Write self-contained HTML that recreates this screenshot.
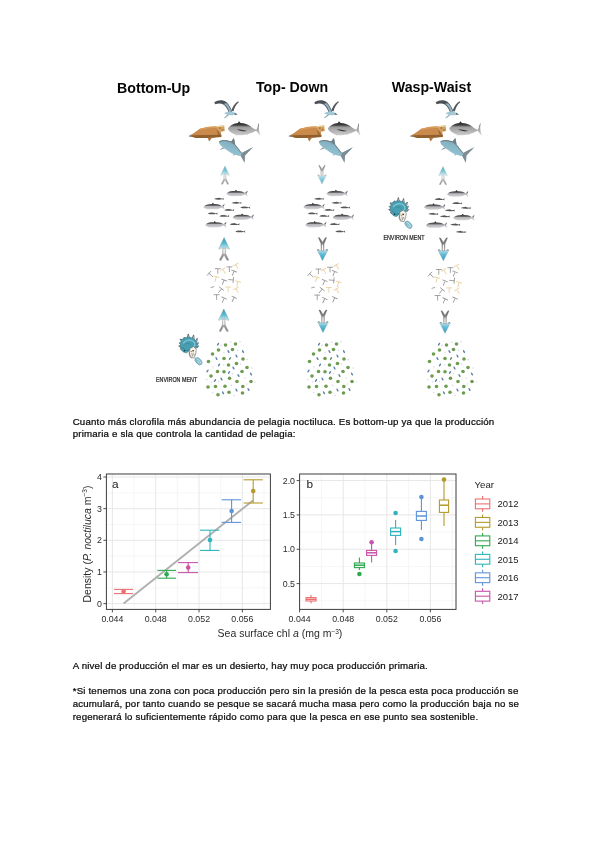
<!DOCTYPE html>
<html lang="es">
<head>
<meta charset="utf-8">
<title>Documento</title>
<style>
html,body{margin:0;padding:0;background:#fff;}
body{width:600px;height:848px;position:relative;overflow:hidden;font-family:"Liberation Sans",sans-serif;color:#000;}
.ln{position:absolute;left:72.7px;white-space:nowrap;font-size:9.7px;line-height:12px;height:12px;color:#0a0a0a;-webkit-text-stroke:0.24px #0a0a0a;letter-spacing:0.178px;filter:grayscale(1);}
.ttl{filter:grayscale(1);position:absolute;white-space:nowrap;font-weight:bold;font-size:14.2px;line-height:16px;color:#050505;}
#art{position:absolute;left:0;top:0;width:600px;height:848px;}
#art text{font-family:"Liberation Sans",sans-serif;filter:grayscale(1);}
</style>
</head>
<body>

<!-- ===== headings of the diagram ===== -->
<div class="ttl" id="t1" style="left:117px;top:80px;">Bottom-Up</div>
<div class="ttl" id="t2" style="left:256px;top:78.8px;">Top- Down</div>
<div class="ttl" id="t3" style="left:391.8px;top:79.3px;">Wasp-Waist</div>

<!-- ===== paragraphs ===== -->
<div class="ln" id="l1" style="top:415.6px;">Cuanto más clorofila más abundancia de pelagia noctiluca. Es bottom-up ya que la producción</div>
<div class="ln" id="l2" style="top:428.3px;">primaria e sla que controla la cantidad de pelagia:</div>
<div class="ln" id="l3" style="top:659.9px;">A nivel de producción el mar es un desierto, hay muy poca producción primaria.</div>
<div class="ln" id="l4" style="top:685.3px;">*Si tenemos una zona con poca producción pero sin la presión de la pesca esta poca producción se</div>
<div class="ln" id="l5" style="top:698.0px;">acumulará, por tanto cuando se pesque se sacará mucha masa pero como la producción baja no se</div>
<div class="ln" id="l6" style="top:710.7px;">regenerará lo suficientemente rápido como para que la pesca en ese punto sea sostenible.</div>

<svg id="art" viewBox="0 0 600 848" width="600" height="848">
<defs>

<filter id="soft" x="-5%" y="-5%" width="110%" height="110%"><feGaussianBlur stdDeviation="0.35"/></filter>
<linearGradient id="gTuna" x1="0" y1="0" x2="0" y2="1">
 <stop offset="0" stop-color="#2a2a2a"/><stop offset="0.26" stop-color="#3c3c3c"/><stop offset="0.4" stop-color="#9c9c9c"/><stop offset="1" stop-color="#cfcfcf"/>
</linearGradient>
<linearGradient id="gFish" x1="0" y1="0" x2="0" y2="1">
 <stop offset="0" stop-color="#2e2e2e"/><stop offset="0.2" stop-color="#3a3a3a"/><stop offset="0.4" stop-color="#6a6a6c"/><stop offset="0.52" stop-color="#b4b6ba"/><stop offset="1" stop-color="#d8d8d8"/>
</linearGradient>
<linearGradient id="gShark" x1="0.7" y1="0" x2="0.3" y2="1">
 <stop offset="0" stop-color="#6f7b83"/><stop offset="0.35" stop-color="#86b4c4"/><stop offset="1" stop-color="#9fcfdd"/>
</linearGradient>
<linearGradient id="gUp" x1="0" y1="0" x2="0" y2="1">
 <stop offset="0" stop-color="#3397b0"/><stop offset="0.55" stop-color="#62bdd2"/><stop offset="1" stop-color="#d9f2f6"/>
</linearGradient>
<linearGradient id="gDn" x1="0" y1="0" x2="0" y2="1">
 <stop offset="0" stop-color="#cdebf2"/><stop offset="0.4" stop-color="#66bdd6"/><stop offset="1" stop-color="#2f9cc2"/>
</linearGradient>
<linearGradient id="gTail" x1="0" y1="0" x2="0" y2="1">
 <stop offset="0" stop-color="#c9c9c9"/><stop offset="1" stop-color="#7d7d7d"/>
</linearGradient>
<linearGradient id="gTailD" x1="0" y1="0" x2="0" y2="1">
 <stop offset="0" stop-color="#5a5a5a"/><stop offset="1" stop-color="#b5b5b5"/>
</linearGradient>

<!-- arrow pointing up : tip at (0,0), 11 wide, 23 tall -->
<g id="arrUp">
 <path d="M-1.35,10.6 L1.35,10.6 L1.5,16 L4.7,22.6 L3.1,23 L0,17.6 L-3.1,23 L-4.7,22.6 L-1.5,16 Z" fill="url(#gTail)" stroke="#8f8f8f" stroke-width="0.35"/>
 <path d="M-0.55,11 L0.55,11 L0.6,16.2 L-0.6,16.2Z" fill="#fff"/>
 <path d="M0,0 L5.4,11.3 L4.6,11.7 L1.6,10.2 L-1.6,10.2 L-4.6,11.7 L-5.4,11.3 Z" fill="url(#gUp)" stroke="#7f9aa3" stroke-width="0.4" stroke-linejoin="round"/>
</g>
<!-- arrow pointing down : top at (0,0), tip at (0,23) -->
<g id="arrDn">
 <path d="M-4.1,0 L-2.9,0.1 L0,4.6 L2.9,0.1 L4.1,0 L1.5,6.4 L1.4,13 L-1.4,13 L-1.5,6.4 Z" fill="url(#gTailD)" stroke="#6e6e6e" stroke-width="0.35"/>
 <path d="M-0.55,7 L0.55,7 L0.55,12.8 L-0.55,12.8Z" fill="#fff"/>
 <path d="M0,23 L5.3,12.4 L4.5,11.9 L1.6,13.3 L-1.6,13.3 L-4.5,11.9 L-5.3,12.4 Z" fill="url(#gDn)" stroke="#7395a3" stroke-width="0.4" stroke-linejoin="round"/>
 <path d="M-5.3,12.4 L-4.5,11.9 L-3.3,12.6 M5.3,12.4 L4.5,11.9 L3.3,12.6" fill="none" stroke="#555" stroke-width="0.6"/>
</g>

<!-- big forage fish: nose (0,0), 21 long -->
<path id="bfish" d="M0,0.3 C1.2,-1.3 3.4,-2.2 6,-2.4 L8.5,-2.55 L9.4,-3.8 L10.7,-2.55 L14,-2.3 C16,-1.9 17.4,-1.1 18.6,-0.4 L21.2,-2.9 L20.4,0.2 L21.2,3.1 L18.6,0.9 C17,1.8 15,2.4 13,2.6 L6,2.75 C3.5,2.5 1.2,1.7 0,0.3Z" fill="url(#gFish)"/>
<!-- small forage fish: 10 long -->
<path id="sfish" d="M0,0.1 C1.4,-1.0 3.2,-1.3 4.6,-1.1 L5,-1.7 L5.6,-1.0 C6.8,-0.8 7.6,-0.5 8.2,-0.2 L10.1,-1.2 L9.6,0.1 L10.1,1.1 L8.2,0.5 C6,1.1 2.4,1.1 0,0.1Z" fill="#555" transform="scale(1,0.85)"/>
<!-- zooplankter : T shape -->
<path id="zoo" d="M-2.6,-1.9 L2.6,-1.9 M0,-1.9 L0,2.8" fill="none" stroke-linecap="round"/>

<!-- ===== predators (column 1 coordinates) ===== -->
<g id="pred">
 <!-- sea bird -->
 <path d="M214.3,102.3 C217.6,99.7 223,99.5 226.3,101.9 C229.1,104.3 230.8,108 232.2,111.8 L228.8,112.8 C227.6,109.4 226,106.4 223.8,104.8 C221.2,103.2 218,103.2 215.2,104.3Z" fill="#4b5056"/>
 <path d="M223.6,103.8 C226.6,105.2 228.2,108.8 229.4,112.7 L231.6,112.1 C230.2,108 228.8,105.2 226.6,103.2Z" fill="#8fb3c3"/>
 <path d="M231.3,110.6 C232.4,107 234.8,103.4 238.2,101.3 L238.8,102.3 C236,104.6 234.4,107.6 233.4,111.4Z" fill="#4f545a"/>
 <path d="M224.2,113.2 C227.4,111 232.6,111.4 234.8,112.7 L237.6,114.4 C233.4,115.7 228,115.5 224.2,113.2Z" fill="#a2c7d5"/>
 <path d="M234.4,112.6 L237.6,114.4 L235,114.8Z" fill="#5b6268"/>
 <path d="M228.4,114.8 L224.8,117.6" fill="none" stroke="#8ea9b4" stroke-width="1.2" stroke-linecap="round"/>
 <!-- turtle -->
 <path d="M188.6,136.1 L193.6,133.2 L199.8,128.8 L207.6,127 L216.2,126.2 L220.6,129.8 L221.4,136.6 L210,137.8 L196,137.8 Z" fill="#c98a4c"/>
 <path d="M215.6,126.3 L224.2,125.5 L224.8,130.9 L219.8,132 L217.4,129.6Z" fill="#d3a062"/>
 <path d="M206,127.1 L224.2,125.3 L224.3,126.5 L212,127.8Z" fill="#ead3a0"/>
 <path d="M189.4,136 L193,135.2 L221.4,134.8 L221.4,136.9 L210,138.1 L196,138.1Z" fill="#905e2f"/>
 <path d="M199.8,128.8 L207.6,127 L216.2,126.2 L217,127.4 L208,128.4 L200.6,130Z" fill="#d99c5c"/>
 <path d="M219,127.6 L220.6,127.4 L220.8,128.6 L219.2,128.8Z M221.6,129.4 L223.2,129.2 L223.4,130.4 L221.8,130.6Z M216.4,129.6 L218.4,131.6 L220.4,135 L218.4,135 Z" fill="#9a6330"/>
 <path d="M207.4,137.6 L209.2,141.5 L212.2,137.6Z" fill="#b0763d"/>
 <path d="M188.4,136.2 L191,135 L191,137Z" fill="#8a8c92"/>
 <!-- tuna -->
 <path d="M227.8,128.8 C229.6,125.6 234.4,123.4 237.8,123.1 L239,121.2 L240.6,123.1 C244.4,123.3 248,124.5 250.4,126.2 C252.6,127.8 254.6,129.2 256.3,129.7 C257.4,127.6 258.4,125 259.1,122.6 C258.5,126.6 258.7,131.6 260.5,135.8 C258.8,134 257.4,132.2 256.3,130.7 C253.4,131.9 250.6,133.4 248.2,134.1 L247.6,135 L246.4,134.5 C243.4,135.2 240.2,135.4 237.2,135 L236.4,135.8 L235.6,134.7 C232.4,133.9 229.4,132 227.8,128.8Z" fill="url(#gTuna)"/>
 <path d="M236.6,129.4 C240,129.3 244,130 247.2,131.1 C243.6,131.4 239.6,130.8 236.6,129.4Z" fill="#2e2e2e"/>
 <!-- shark -->
 <path d="M218.8,141.4 C220.8,140.3 223.4,139.9 225.6,140 L231.2,141.4 L233.9,137.9 L235.2,144.4 C237.6,147.4 239.9,150.4 241.7,152.9 L252.8,147.3 L245,155.4 L244.5,162.7 L241,156.2 C238.6,155.9 236.6,155.3 235,154.7 L233.6,156 L233,153.9 C231.4,153.2 230,152.2 228.8,151.4 C226,149.6 223.4,147.9 221.4,146.1 C220,144.7 219,143 218.8,141.4Z" fill="url(#gShark)"/>
 <path d="M231.2,141.4 L233.9,137.9 L235.2,144.4Z" fill="#737d84"/>
 <path d="M241.7,152.9 L252.8,147.3 L245,155.4 L244.5,162.7 L241,156.2Z" fill="#808b92"/>
 <path d="M224.6,148.3 L219.4,150.3 L222.8,147.2Z" fill="#8a979d"/>
 <path d="M219.4,141.6 C221,140.8 223.6,140.4 225.6,140.5 L231.2,141.9 L235,144.8 L241.4,153" fill="none" stroke="#6c767d" stroke-width="0.9"/>
</g>

<!-- ===== forage fish school ===== -->
<g id="school">
 <use href="#bfish" x="226.4" y="193.5"/>
 <use href="#bfish" x="203.4" y="206.6"/>
 <use href="#bfish" x="232.6" y="217.2"/>
 <use href="#bfish" x="205.2" y="224.7"/>
 <use href="#sfish" x="214" y="198.9"/>
 <use href="#sfish" x="231.5" y="202.9"/>
 <use href="#sfish" x="240.2" y="207.6"/>
 <use href="#sfish" x="224.2" y="210.1"/>
 <use href="#sfish" x="207.6" y="213.6"/>
 <use href="#sfish" x="219.2" y="216.1"/>
 <use href="#sfish" x="229.6" y="224.3"/>
 <use href="#sfish" x="235.2" y="231.6"/>
</g>

<!-- ===== zooplankton ===== -->
<g id="zoop" stroke-width="0.9">
 <g stroke="#9a9a9a">
  <use href="#zoo" transform="translate(217.8,270.6)"/>
  <use href="#zoo" transform="translate(229.4,268.8)"/>
  <use href="#zoo" transform="translate(233.4,272.8) rotate(22)"/>
  <use href="#zoo" transform="translate(210.4,274.6) rotate(-48)"/>
  <use href="#zoo" transform="translate(223.4,281.8) rotate(22)"/>
  <use href="#zoo" transform="translate(231.4,279.8) rotate(95)"/>
  <use href="#zoo" transform="translate(220.4,290.2) rotate(38)"/>
  <use href="#zoo" transform="translate(216.6,296.6)"/>
  <use href="#zoo" transform="translate(223.4,299.8) rotate(25)"/>
  <use href="#zoo" transform="translate(233.4,299) rotate(25)"/>
  <path d="M210.6,287.6 L214.2,286.6" fill="none"/>
 </g>
 <g stroke="#ebd3a2">
  <use href="#zoo" transform="translate(223.8,270.8) rotate(-30)"/>
  <use href="#zoo" transform="translate(236.6,266.2) rotate(-30)"/>
  <use href="#zoo" transform="translate(215.8,278.6) rotate(15)"/>
  <use href="#zoo" transform="translate(237.6,283.4) rotate(15)"/>
  <use href="#zoo" transform="translate(228.2,289)"/>
  <use href="#zoo" transform="translate(236.8,290.2) rotate(-30)"/>
 </g>
</g>

<!-- ===== phytoplankton ===== -->
<g id="phyto">
 <g fill="#dcd8ea">
  <circle cx="221" cy="345.4" r="0.8"/><circle cx="230.6" cy="342" r="0.8"/><circle cx="240" cy="341.8" r="0.8"/><circle cx="224" cy="352.6" r="0.8"/>
  <circle cx="237.6" cy="350.4" r="0.8"/><circle cx="247.2" cy="359.6" r="0.8"/><circle cx="213" cy="367" r="0.8"/><circle cx="223.8" cy="365" r="0.8"/>
  <circle cx="240.6" cy="364" r="0.8"/><circle cx="252" cy="368" r="0.8"/><circle cx="232.4" cy="373.6" r="0.8"/><circle cx="245" cy="378" r="0.8"/>
  <circle cx="211.6" cy="382" r="0.8"/><circle cx="218.6" cy="381.6" r="0.8"/><circle cx="231.4" cy="385.4" r="0.8"/><circle cx="255" cy="382" r="0.8"/>
  <circle cx="212.6" cy="392.6" r="0.8"/><circle cx="234" cy="395.6" r="0.8"/><circle cx="246.6" cy="384" r="0.8"/><circle cx="206.8" cy="379.6" r="0.8"/>
 </g>
 <g fill="#5c7fa6">
  <ellipse rx="0.75" ry="1.7" transform="translate(218,344.2) rotate(35)"/>
  <ellipse rx="0.75" ry="1.7" transform="translate(228.5,351.5) rotate(-30)"/>
  <ellipse rx="0.75" ry="1.7" transform="translate(243,351.5) rotate(-30)"/>
  <ellipse rx="0.75" ry="1.7" transform="translate(216.5,358.5) rotate(-30)"/>
  <ellipse rx="0.75" ry="1.7" transform="translate(236.5,356) rotate(-30)"/>
  <ellipse rx="0.75" ry="1.7" transform="translate(219,365) rotate(35)"/>
  <ellipse rx="0.75" ry="1.7" transform="translate(233.5,368) rotate(-30)"/>
  <ellipse rx="0.75" ry="1.7" transform="translate(207.5,371) rotate(35)"/>
  <ellipse rx="0.75" ry="1.7" transform="translate(229,372.5) rotate(35)"/>
  <ellipse rx="0.75" ry="1.7" transform="translate(238.5,375.5) rotate(-30)"/>
  <ellipse rx="0.75" ry="1.7" transform="translate(251,374) rotate(-30)"/>
  <ellipse rx="0.75" ry="1.7" transform="translate(221.5,379) rotate(-30)"/>
  <ellipse rx="0.75" ry="1.7" transform="translate(215,380.5) rotate(35)"/>
  <ellipse rx="0.75" ry="1.7" transform="translate(236.5,390) rotate(-30)"/>
  <ellipse rx="0.75" ry="1.7" transform="translate(248.5,389.5) rotate(-30)"/>
  <ellipse rx="0.75" ry="1.7" transform="translate(223,392.8) rotate(-30)"/>
  <ellipse rx="0.75" ry="1.7" transform="translate(230,358.5) rotate(35)" fill="#5f8f6a"/>
 </g>
 <g fill="#6d9c4f">
  <circle cx="225.5" cy="345" r="1.8"/><circle cx="235.5" cy="344" r="1.8"/><circle cx="218.5" cy="350" r="1.8"/><circle cx="232.5" cy="349.5" r="1.8"/>
  <circle cx="212.5" cy="354" r="1.8"/><circle cx="224" cy="358.5" r="1.8"/><circle cx="243" cy="359" r="1.8"/><circle cx="208.5" cy="361.5" r="1.8"/>
  <circle cx="236.5" cy="363.5" r="1.8"/><circle cx="228.5" cy="365" r="1.8"/><circle cx="247" cy="367.5" r="1.8"/><circle cx="217.5" cy="371.5" r="1.8"/>
  <circle cx="224" cy="371.8" r="1.8"/><circle cx="242" cy="371.5" r="1.8"/><circle cx="211" cy="376" r="1.8"/><circle cx="229.5" cy="378.2" r="1.8"/>
  <circle cx="237" cy="381.5" r="1.8"/><circle cx="251" cy="381.5" r="1.8"/><circle cx="208" cy="387" r="1.8"/><circle cx="215.5" cy="386.5" r="1.8"/>
  <circle cx="225" cy="386.2" r="1.8"/><circle cx="242.8" cy="386.5" r="1.8"/><circle cx="229" cy="392.2" r="1.8"/><circle cx="242.5" cy="393" r="1.8"/>
  <circle cx="218" cy="394.8" r="1.8"/>
 </g>
</g>

<!-- ===== wind / environment icon (column-1 position) ===== -->
<g id="wind">
 <g fill="none" stroke="#56646b" stroke-width="0.9" stroke-linecap="round">
  <path d="M187.2,338.2 L188.3,333.9 L189.4,338"/><path d="M192.2,338.4 L193.6,334.9 L194.2,339"/><path d="M183.6,340 L184,337.3 L185.8,338.8"/>
  <path d="M181.6,341.6 L180,339.2 L182.8,339.8"/><path d="M180.8,344.6 L179.2,342.9 L181.4,342.6"/><path d="M180.6,347.4 L178.7,346.1 L180.8,345.4"/>
  <path d="M181.6,350 L180.3,349.1 L181.4,348"/><path d="M195.6,340.6 L197.3,338.4 L196.8,341.6"/><path d="M197,343.6 L198.4,342.7 L197.4,345"/><path d="M197.2,346.6 L198.7,345.9 L197,348"/>
 </g>
 <path d="M181.9,339.5 L184.2,337.9 L186.7,337.3 L189.4,337.1 L192,337.9 L194.2,339 L195.7,340.5 L196.9,342.4 L197.3,344.3 L197.1,346.4 L196.3,348 L192,348 L189.3,350.7 L186.7,352.8 L184.6,352.6 L182.9,351.7 L181.6,350 L180.8,348 L180.3,345.8 L180.4,343.7 L180.9,341.4Z" fill="#4a9fb2" stroke="#3a7384" stroke-width="0.5" stroke-linejoin="round"/>
 <path d="M183.2,343.4 C185,340 190.6,339 193.6,341.6 C195.6,343.6 195.2,346.4 193,347.2" fill="none" stroke="#86c9d6" stroke-width="1.2"/>
 <path d="M182.4,347 C183.6,349.8 186.4,351.2 189,350.2" fill="none" stroke="#2f8599" stroke-width="1"/>
 <path d="M185,344.6 C186.6,343 189.6,343 191,344.8" fill="none" stroke="#37899c" stroke-width="0.8"/>
 <path d="M189.9,348.5 L193.6,346.4 L196.3,349.6 L195.7,353.9 L194.1,358.1 L191.5,357.6 L189.3,353.9Z" fill="#f7f2e6" stroke="#5a5d60" stroke-width="0.55" stroke-linejoin="round"/>
 <circle cx="193.1" cy="350.8" r="0.8" fill="#222"/><circle cx="184.4" cy="350.7" r="0.7" fill="#1f2a2e"/>
 <path d="M190.6,351.4 L192.2,351.8" stroke="#8a6a3a" stroke-width="0.8" fill="none"/>
 <path d="M191.8,353 L192.6,356.6 M193.6,353.4 L194.2,355.6 M189.4,352 C188.8,354.4 189.6,356.8 191.4,358.2" fill="none" stroke="#5c5f62" stroke-width="0.6"/>
 <ellipse rx="4.3" ry="2.6" transform="translate(198.5,361.2) rotate(47)" fill="#86c0cf" stroke="#5c93a5" stroke-width="0.6"/>
 <path d="M196.6,358.8 C198.4,359.2 200.4,361.2 201,363.6 M197.6,361.6 L199.4,363.6" fill="none" stroke="#def1f5" stroke-width="0.7"/>
</g>
<text id="envt" x="156" y="382" font-size="6.6" textLength="41.2" lengthAdjust="spacingAndGlyphs" fill="#1c1c1c" stroke="#1c1c1c" stroke-width="0.22">ENVIRON MENT</text>

</defs>

<g id="foodweb" filter="url(#soft)">
 <!-- column 1 : bottom-up -->
 <use href="#pred"/>
 <use href="#school"/>
 <use href="#zoop"/>
 <use href="#phyto"/>
 <use href="#wind"/>
 <use href="#envt"/>
 <use href="#arrUp" transform="translate(225,166) scale(0.80)" opacity="0.8"/>
 <use href="#arrUp" transform="translate(224.1,237.5)"/>
 <use href="#arrUp" transform="translate(223.8,309) scale(0.98)"/>
 <!-- column 2 : top-down -->
 <g transform="translate(100,0)">
  <use href="#pred"/>
  <use href="#school"/>
  <use href="#zoop" transform="translate(0.6,0.4)"/>
  <use href="#phyto" transform="translate(1,0)"/>
 </g>
 <use href="#arrDn" transform="translate(322,165.3) scale(0.81)" opacity="0.75"/>
 <use href="#arrDn" transform="translate(322.5,237.6)"/>
 <use href="#arrDn" transform="translate(323,310) scale(0.98)"/>
 <!-- column 3 : wasp-waist -->
 <g transform="translate(221,0)">
  <use href="#pred" transform="translate(0.4,0)"/>
  <use href="#school" transform="translate(-0.4,0.4)"/>
  <use href="#zoop" transform="translate(0,0.8)"/>
  <use href="#phyto" transform="translate(0,0)"/>
 </g>
 <use href="#wind" transform="translate(210,-136.4)"/>
 <use href="#envt" transform="translate(227.4,-142.4)"/>
 <use href="#arrUp" transform="translate(443,166.4) scale(0.80)" opacity="0.8"/>
 <use href="#arrDn" transform="translate(443.4,237.8)"/>
 <use href="#arrDn" transform="translate(445,310.8) scale(0.98)"/>
</g>

<g id="panelA">
<rect x="106.4" y="474.0" width="164.0" height="135.4" fill="#fff"/>
<line x1="106.40" y1="587.77" x2="270.40" y2="587.77" stroke="#f0f0f0" stroke-width="0.6" />
<line x1="106.40" y1="556.12" x2="270.40" y2="556.12" stroke="#f0f0f0" stroke-width="0.6" />
<line x1="106.40" y1="524.48" x2="270.40" y2="524.48" stroke="#f0f0f0" stroke-width="0.6" />
<line x1="106.40" y1="492.83" x2="270.40" y2="492.83" stroke="#f0f0f0" stroke-width="0.6" />
<line x1="134.06" y1="474.00" x2="134.06" y2="609.40" stroke="#f0f0f0" stroke-width="0.6" />
<line x1="177.38" y1="474.00" x2="177.38" y2="609.40" stroke="#f0f0f0" stroke-width="0.6" />
<line x1="220.70" y1="474.00" x2="220.70" y2="609.40" stroke="#f0f0f0" stroke-width="0.6" />
<line x1="264.02" y1="474.00" x2="264.02" y2="609.40" stroke="#f0f0f0" stroke-width="0.6" />
<line x1="106.40" y1="603.60" x2="270.40" y2="603.60" stroke="#e4e4e4" stroke-width="0.9" />
<line x1="106.40" y1="571.95" x2="270.40" y2="571.95" stroke="#e4e4e4" stroke-width="0.9" />
<line x1="106.40" y1="540.30" x2="270.40" y2="540.30" stroke="#e4e4e4" stroke-width="0.9" />
<line x1="106.40" y1="508.65" x2="270.40" y2="508.65" stroke="#e4e4e4" stroke-width="0.9" />
<line x1="106.40" y1="477.00" x2="270.40" y2="477.00" stroke="#e4e4e4" stroke-width="0.9" />
<line x1="112.40" y1="474.00" x2="112.40" y2="609.40" stroke="#e4e4e4" stroke-width="0.9" />
<line x1="155.72" y1="474.00" x2="155.72" y2="609.40" stroke="#e4e4e4" stroke-width="0.9" />
<line x1="199.04" y1="474.00" x2="199.04" y2="609.40" stroke="#e4e4e4" stroke-width="0.9" />
<line x1="242.36" y1="474.00" x2="242.36" y2="609.40" stroke="#e4e4e4" stroke-width="0.9" />
<line x1="123.60" y1="603.60" x2="253.00" y2="500.40" stroke="#b0b0b0" stroke-width="1.9" stroke-linecap="butt"/>
<line x1="123.60" y1="589.40" x2="123.60" y2="593.60" stroke="#EC6F6F" stroke-width="1.1" />
<line x1="114.00" y1="589.40" x2="133.00" y2="589.40" stroke="#EC6F6F" stroke-width="1.1" />
<line x1="114.00" y1="593.60" x2="133.00" y2="593.60" stroke="#EC6F6F" stroke-width="1.1" />
<circle cx="123.6" cy="591.4" r="2.3" fill="#EC6F6F"/>
<line x1="166.60" y1="570.40" x2="166.60" y2="578.20" stroke="#2FA94F" stroke-width="1.1" />
<line x1="157.40" y1="570.40" x2="176.00" y2="570.40" stroke="#2FA94F" stroke-width="1.1" />
<line x1="157.40" y1="578.20" x2="176.00" y2="578.20" stroke="#2FA94F" stroke-width="1.1" />
<circle cx="166.6" cy="574.2" r="2.3" fill="#2FA94F"/>
<line x1="188.20" y1="562.60" x2="188.20" y2="572.60" stroke="#C755AA" stroke-width="1.1" />
<line x1="178.00" y1="562.60" x2="198.00" y2="562.60" stroke="#C755AA" stroke-width="1.1" />
<line x1="178.00" y1="572.60" x2="198.00" y2="572.60" stroke="#C755AA" stroke-width="1.1" />
<circle cx="188.2" cy="567.6" r="2.3" fill="#C755AA"/>
<line x1="210.00" y1="530.20" x2="210.00" y2="550.40" stroke="#2FB4BB" stroke-width="1.1" />
<line x1="200.00" y1="530.20" x2="219.40" y2="530.20" stroke="#2FB4BB" stroke-width="1.1" />
<line x1="200.00" y1="550.40" x2="219.40" y2="550.40" stroke="#2FB4BB" stroke-width="1.1" />
<circle cx="210.0" cy="540.0" r="2.3" fill="#2FB4BB"/>
<line x1="231.60" y1="499.80" x2="231.60" y2="522.40" stroke="#5E93D8" stroke-width="1.1" />
<line x1="221.60" y1="499.80" x2="241.00" y2="499.80" stroke="#5E93D8" stroke-width="1.1" />
<line x1="221.60" y1="522.40" x2="241.00" y2="522.40" stroke="#5E93D8" stroke-width="1.1" />
<circle cx="231.6" cy="511.0" r="2.3" fill="#5E93D8"/>
<line x1="253.20" y1="479.80" x2="253.20" y2="503.00" stroke="#B49A2B" stroke-width="1.1" />
<line x1="243.60" y1="479.80" x2="262.80" y2="479.80" stroke="#B49A2B" stroke-width="1.1" />
<line x1="243.60" y1="503.00" x2="262.80" y2="503.00" stroke="#B49A2B" stroke-width="1.1" />
<circle cx="253.2" cy="491.0" r="2.3" fill="#B49A2B"/>
<rect x="106.4" y="474.0" width="164.0" height="135.4" fill="none" stroke="#3c3c3c" stroke-width="1"/>
<line x1="103.40" y1="603.60" x2="106.40" y2="603.60" stroke="#3c3c3c" stroke-width="0.9" />
<text x="101.80" y="606.70" font-size="8.8" text-anchor="end" fill="#2a2a2a" >0</text>
<line x1="103.40" y1="571.95" x2="106.40" y2="571.95" stroke="#3c3c3c" stroke-width="0.9" />
<text x="101.80" y="575.05" font-size="8.8" text-anchor="end" fill="#2a2a2a" >1</text>
<line x1="103.40" y1="540.30" x2="106.40" y2="540.30" stroke="#3c3c3c" stroke-width="0.9" />
<text x="101.80" y="543.40" font-size="8.8" text-anchor="end" fill="#2a2a2a" >2</text>
<line x1="103.40" y1="508.65" x2="106.40" y2="508.65" stroke="#3c3c3c" stroke-width="0.9" />
<text x="101.80" y="511.75" font-size="8.8" text-anchor="end" fill="#2a2a2a" >3</text>
<line x1="103.40" y1="477.00" x2="106.40" y2="477.00" stroke="#3c3c3c" stroke-width="0.9" />
<text x="101.80" y="480.10" font-size="8.8" text-anchor="end" fill="#2a2a2a" >4</text>
<line x1="112.40" y1="609.40" x2="112.40" y2="612.40" stroke="#3c3c3c" stroke-width="0.9" />
<text x="112.40" y="622.40" font-size="8.8" text-anchor="middle" fill="#2a2a2a" >0.044</text>
<line x1="155.72" y1="609.40" x2="155.72" y2="612.40" stroke="#3c3c3c" stroke-width="0.9" />
<text x="155.72" y="622.40" font-size="8.8" text-anchor="middle" fill="#2a2a2a" >0.048</text>
<line x1="199.04" y1="609.40" x2="199.04" y2="612.40" stroke="#3c3c3c" stroke-width="0.9" />
<text x="199.04" y="622.40" font-size="8.8" text-anchor="middle" fill="#2a2a2a" >0.052</text>
<line x1="242.36" y1="609.40" x2="242.36" y2="612.40" stroke="#3c3c3c" stroke-width="0.9" />
<text x="242.36" y="622.40" font-size="8.8" text-anchor="middle" fill="#2a2a2a" >0.056</text>
<text x="112.00" y="488.00" font-size="11.8" text-anchor="start" fill="#1a1a1a" >a</text>
<text transform="translate(90.7,544) rotate(-90)" font-size="10.5" text-anchor="middle" fill="#2a2a2a">Density (<tspan font-style="italic">P. noctiluca</tspan> m<tspan font-size="6.5" dy="-3.5">−3</tspan><tspan dy="3.5">)</tspan></text>
</g>
<g id="panelB">
<rect x="299.6" y="474.0" width="156.4" height="135.4" fill="#fff"/>
<line x1="299.60" y1="600.77" x2="456.00" y2="600.77" stroke="#f0f0f0" stroke-width="0.6" />
<line x1="299.60" y1="566.43" x2="456.00" y2="566.43" stroke="#f0f0f0" stroke-width="0.6" />
<line x1="299.60" y1="532.08" x2="456.00" y2="532.08" stroke="#f0f0f0" stroke-width="0.6" />
<line x1="299.60" y1="497.73" x2="456.00" y2="497.73" stroke="#f0f0f0" stroke-width="0.6" />
<line x1="321.40" y1="474.00" x2="321.40" y2="609.40" stroke="#f0f0f0" stroke-width="0.6" />
<line x1="365.00" y1="474.00" x2="365.00" y2="609.40" stroke="#f0f0f0" stroke-width="0.6" />
<line x1="408.60" y1="474.00" x2="408.60" y2="609.40" stroke="#f0f0f0" stroke-width="0.6" />
<line x1="452.20" y1="474.00" x2="452.20" y2="609.40" stroke="#f0f0f0" stroke-width="0.6" />
<line x1="299.60" y1="583.60" x2="456.00" y2="583.60" stroke="#e4e4e4" stroke-width="0.9" />
<line x1="299.60" y1="549.25" x2="456.00" y2="549.25" stroke="#e4e4e4" stroke-width="0.9" />
<line x1="299.60" y1="514.90" x2="456.00" y2="514.90" stroke="#e4e4e4" stroke-width="0.9" />
<line x1="299.60" y1="480.55" x2="456.00" y2="480.55" stroke="#e4e4e4" stroke-width="0.9" />
<line x1="343.20" y1="474.00" x2="343.20" y2="609.40" stroke="#e4e4e4" stroke-width="0.9" />
<line x1="386.80" y1="474.00" x2="386.80" y2="609.40" stroke="#e4e4e4" stroke-width="0.9" />
<line x1="430.40" y1="474.00" x2="430.40" y2="609.40" stroke="#e4e4e4" stroke-width="0.9" />
<line x1="311.00" y1="595.00" x2="311.00" y2="597.60" stroke="#EC6F6F" stroke-width="1.1" />
<line x1="311.00" y1="601.00" x2="311.00" y2="603.60" stroke="#EC6F6F" stroke-width="1.1" />
<rect x="306.00" y="597.60" width="10.00" height="3.40" fill="#fff" stroke="#EC6F6F" stroke-width="1.1"/>
<line x1="306.00" y1="599.30" x2="316.00" y2="599.30" stroke="#EC6F6F" stroke-width="1.5" />
<line x1="359.40" y1="557.40" x2="359.40" y2="563.00" stroke="#2FA94F" stroke-width="1.1" />
<line x1="359.40" y1="567.60" x2="359.40" y2="570.00" stroke="#2FA94F" stroke-width="1.1" />
<rect x="354.40" y="563.00" width="10.00" height="4.60" fill="#fff" stroke="#2FA94F" stroke-width="1.1"/>
<line x1="354.40" y1="565.20" x2="364.40" y2="565.20" stroke="#2FA94F" stroke-width="1.5" />
<circle cx="359.4" cy="574.0" r="2.3" fill="#2FA94F"/>
<line x1="371.60" y1="544.00" x2="371.60" y2="550.40" stroke="#C755AA" stroke-width="1.1" />
<line x1="371.60" y1="555.40" x2="371.60" y2="562.40" stroke="#C755AA" stroke-width="1.1" />
<rect x="366.60" y="550.40" width="10.00" height="5.00" fill="#fff" stroke="#C755AA" stroke-width="1.1"/>
<line x1="366.60" y1="552.80" x2="376.60" y2="552.80" stroke="#C755AA" stroke-width="1.5" />
<circle cx="371.6" cy="542.2" r="2.3" fill="#C755AA"/>
<line x1="395.60" y1="520.00" x2="395.60" y2="528.00" stroke="#2FB4BB" stroke-width="1.1" />
<line x1="395.60" y1="535.40" x2="395.60" y2="545.00" stroke="#2FB4BB" stroke-width="1.1" />
<rect x="390.60" y="528.00" width="10.00" height="7.40" fill="#fff" stroke="#2FB4BB" stroke-width="1.1"/>
<line x1="390.60" y1="531.60" x2="400.60" y2="531.60" stroke="#2FB4BB" stroke-width="1.5" />
<circle cx="395.6" cy="513.0" r="2.3" fill="#2FB4BB"/>
<circle cx="395.6" cy="551.0" r="2.3" fill="#2FB4BB"/>
<line x1="421.40" y1="499.00" x2="421.40" y2="511.40" stroke="#5E93D8" stroke-width="1.1" />
<line x1="421.40" y1="520.40" x2="421.40" y2="530.00" stroke="#5E93D8" stroke-width="1.1" />
<rect x="416.40" y="511.40" width="10.00" height="9.00" fill="#fff" stroke="#5E93D8" stroke-width="1.1"/>
<line x1="416.40" y1="516.00" x2="426.40" y2="516.00" stroke="#5E93D8" stroke-width="1.5" />
<circle cx="421.4" cy="497.0" r="2.3" fill="#5E93D8"/>
<circle cx="421.4" cy="539.0" r="2.3" fill="#5E93D8"/>
<line x1="444.00" y1="481.00" x2="444.00" y2="500.00" stroke="#B49A2B" stroke-width="1.1" />
<line x1="444.00" y1="512.40" x2="444.00" y2="526.00" stroke="#B49A2B" stroke-width="1.1" />
<rect x="439.40" y="500.00" width="9.20" height="12.40" fill="#fff" stroke="#B49A2B" stroke-width="1.1"/>
<line x1="439.40" y1="505.20" x2="448.60" y2="505.20" stroke="#B49A2B" stroke-width="1.5" />
<circle cx="444.0" cy="479.6" r="2.3" fill="#B49A2B"/>
<rect x="299.6" y="474.0" width="156.4" height="135.4" fill="none" stroke="#3c3c3c" stroke-width="1"/>
<line x1="296.60" y1="583.60" x2="299.60" y2="583.60" stroke="#3c3c3c" stroke-width="0.9" />
<text x="295.00" y="586.70" font-size="8.8" text-anchor="end" fill="#2a2a2a" >0.5</text>
<line x1="296.60" y1="549.25" x2="299.60" y2="549.25" stroke="#3c3c3c" stroke-width="0.9" />
<text x="295.00" y="552.35" font-size="8.8" text-anchor="end" fill="#2a2a2a" >1.0</text>
<line x1="296.60" y1="514.90" x2="299.60" y2="514.90" stroke="#3c3c3c" stroke-width="0.9" />
<text x="295.00" y="518.00" font-size="8.8" text-anchor="end" fill="#2a2a2a" >1.5</text>
<line x1="296.60" y1="480.55" x2="299.60" y2="480.55" stroke="#3c3c3c" stroke-width="0.9" />
<text x="295.00" y="483.65" font-size="8.8" text-anchor="end" fill="#2a2a2a" >2.0</text>
<line x1="299.60" y1="609.40" x2="299.60" y2="612.40" stroke="#3c3c3c" stroke-width="0.9" />
<text x="299.60" y="622.40" font-size="8.8" text-anchor="middle" fill="#2a2a2a" >0.044</text>
<line x1="343.20" y1="609.40" x2="343.20" y2="612.40" stroke="#3c3c3c" stroke-width="0.9" />
<text x="343.20" y="622.40" font-size="8.8" text-anchor="middle" fill="#2a2a2a" >0.048</text>
<line x1="386.80" y1="609.40" x2="386.80" y2="612.40" stroke="#3c3c3c" stroke-width="0.9" />
<text x="386.80" y="622.40" font-size="8.8" text-anchor="middle" fill="#2a2a2a" >0.052</text>
<line x1="430.40" y1="609.40" x2="430.40" y2="612.40" stroke="#3c3c3c" stroke-width="0.9" />
<text x="430.40" y="622.40" font-size="8.8" text-anchor="middle" fill="#2a2a2a" >0.056</text>
<text x="306.60" y="488.00" font-size="11.8" text-anchor="start" fill="#1a1a1a" >b</text>
</g>
<text x="217.6" y="637" font-size="10.5" fill="#2a2a2a" id="xtitle">Sea surface chl <tspan font-style="italic">a</tspan> (mg m<tspan font-size="6.5" dy="-3.5">−3</tspan><tspan dy="3.5">)</tspan></text>
<g id="legend">
<text x="474.60" y="487.80" font-size="9.6" text-anchor="start" fill="#1a1a1a" >Year</text>
<line x1="482.60" y1="496.00" x2="482.60" y2="499.00" stroke="#EC6F6F" stroke-width="1.1" />
<line x1="482.60" y1="508.80" x2="482.60" y2="511.80" stroke="#EC6F6F" stroke-width="1.1" />
<rect x="475.40" y="499.00" width="14.4" height="9.8" fill="#fff" stroke="#EC6F6F" stroke-width="1.1"/>
<line x1="475.40" y1="503.90" x2="489.80" y2="503.90" stroke="#EC6F6F" stroke-width="1.1" />
<text x="497.50" y="507.30" font-size="9.5" text-anchor="start" fill="#1a1a1a" >2012</text>
<line x1="482.60" y1="514.46" x2="482.60" y2="517.46" stroke="#B49A2B" stroke-width="1.1" />
<line x1="482.60" y1="527.26" x2="482.60" y2="530.26" stroke="#B49A2B" stroke-width="1.1" />
<rect x="475.40" y="517.46" width="14.4" height="9.8" fill="#fff" stroke="#B49A2B" stroke-width="1.1"/>
<line x1="475.40" y1="522.36" x2="489.80" y2="522.36" stroke="#B49A2B" stroke-width="1.1" />
<text x="497.50" y="525.76" font-size="9.5" text-anchor="start" fill="#1a1a1a" >2013</text>
<line x1="482.60" y1="532.92" x2="482.60" y2="535.92" stroke="#2FA94F" stroke-width="1.1" />
<line x1="482.60" y1="545.72" x2="482.60" y2="548.72" stroke="#2FA94F" stroke-width="1.1" />
<rect x="475.40" y="535.92" width="14.4" height="9.8" fill="#fff" stroke="#2FA94F" stroke-width="1.1"/>
<line x1="475.40" y1="540.82" x2="489.80" y2="540.82" stroke="#2FA94F" stroke-width="1.1" />
<text x="497.50" y="544.22" font-size="9.5" text-anchor="start" fill="#1a1a1a" >2014</text>
<line x1="482.60" y1="551.38" x2="482.60" y2="554.38" stroke="#2FB4BB" stroke-width="1.1" />
<line x1="482.60" y1="564.18" x2="482.60" y2="567.18" stroke="#2FB4BB" stroke-width="1.1" />
<rect x="475.40" y="554.38" width="14.4" height="9.8" fill="#fff" stroke="#2FB4BB" stroke-width="1.1"/>
<line x1="475.40" y1="559.28" x2="489.80" y2="559.28" stroke="#2FB4BB" stroke-width="1.1" />
<text x="497.50" y="562.68" font-size="9.5" text-anchor="start" fill="#1a1a1a" >2015</text>
<line x1="482.60" y1="569.84" x2="482.60" y2="572.84" stroke="#5E93D8" stroke-width="1.1" />
<line x1="482.60" y1="582.64" x2="482.60" y2="585.64" stroke="#5E93D8" stroke-width="1.1" />
<rect x="475.40" y="572.84" width="14.4" height="9.8" fill="#fff" stroke="#5E93D8" stroke-width="1.1"/>
<line x1="475.40" y1="577.74" x2="489.80" y2="577.74" stroke="#5E93D8" stroke-width="1.1" />
<text x="497.50" y="581.14" font-size="9.5" text-anchor="start" fill="#1a1a1a" >2016</text>
<line x1="482.60" y1="588.30" x2="482.60" y2="591.30" stroke="#C755AA" stroke-width="1.1" />
<line x1="482.60" y1="601.10" x2="482.60" y2="604.10" stroke="#C755AA" stroke-width="1.1" />
<rect x="475.40" y="591.30" width="14.4" height="9.8" fill="#fff" stroke="#C755AA" stroke-width="1.1"/>
<line x1="475.40" y1="596.20" x2="489.80" y2="596.20" stroke="#C755AA" stroke-width="1.1" />
<text x="497.50" y="599.60" font-size="9.5" text-anchor="start" fill="#1a1a1a" >2017</text>
</g>
</svg>
</body>
</html>
